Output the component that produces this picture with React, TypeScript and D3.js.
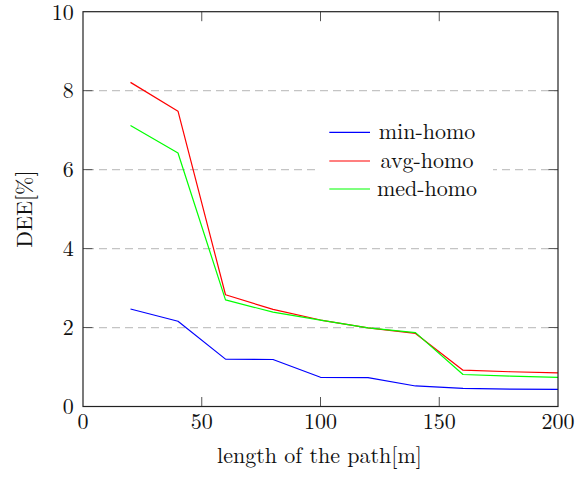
import React from "react";
import * as d3 from "d3";

const xValues = [20, 40, 60, 80, 100, 120, 140, 160, 180, 200];
const minHomo = [2.47, 2.16, 1.2, 1.19, 0.74, 0.73, 0.52, 0.46, 0.44, 0.435];
const avgHomo = [8.21, 7.48, 2.83, 2.46, 2.19, 1.99, 1.85, 0.92, 0.88, 0.85];
const medHomo = [7.12, 6.42, 2.7, 2.39, 2.19, 1.99, 1.87, 0.81, 0.77, 0.74];
const seriesNames = ["min-homo", "avg-homo", "med-homo"];
const seriesColors = ["#0000ff", "#ff0000", "#00ff00"];
const xTicks = [0, 50, 100, 150, 200];
const yTicks = [0, 2, 4, 6, 8, 10];
const xLabel = "length of the path[m]";
const yLabel = "DEE[%]";

const W = 586;
const H = 477;
const L = 83, R = 558, T = 11.7, B = 406.5;
const FONT = "Latin Modern Roman";
const FS = 22;

export default function App() {
  const x = d3.scaleLinear().domain([0, 200]).range([L, R]);
  const y = d3.scaleLinear().domain([0, 10]).range([B, T]);
  const allSeries = [minHomo, avgHomo, medHomo];
  const line = d3
    .line<number>()
    .x((_, i) => x(xValues[i]))
    .y((d) => y(d));
  const tickLen = 9.5;
  const legendRows = [132.3, 161, 189];

  return (
    <svg width={W} height={H} style={{ position: "absolute", left: 0, top: 0 }}>
      <rect x={0} y={0} width={W} height={H} fill="#fff" />
      {yTicks
        .filter((t) => t > 0 && t < 10)
        .map((t) => (
          <line
            key={"g" + t}
            x1={L}
            x2={R}
            y1={y(t)}
            y2={y(t)}
            stroke="#c4c4c4"
            strokeWidth={1.2}
            strokeDasharray="8,5"
            strokeDashoffset={-3}
          />
        ))}
      {allSeries.map((s, i) => (
        <path
          key={"s" + i}
          d={line(s) || ""}
          fill="none"
          stroke={seriesColors[i]}
          strokeWidth={1.2}
          strokeLinejoin="round"
        />
      ))}
      {xTicks
        .filter((t) => t > 0 && t < 200)
        .map((t) => (
          <g key={"xt" + t}>
            <line x1={x(t)} x2={x(t)} y1={B} y2={B - tickLen} stroke="#555" strokeWidth={1} />
            <line x1={x(t)} x2={x(t)} y1={T} y2={T + tickLen} stroke="#555" strokeWidth={1} />
          </g>
        ))}
      {yTicks
        .filter((t) => t > 0 && t < 10)
        .map((t) => (
          <g key={"yt" + t}>
            <line x1={L} x2={L + tickLen} y1={y(t)} y2={y(t)} stroke="#555" strokeWidth={1} />
            <line x1={R} x2={R - tickLen} y1={y(t)} y2={y(t)} stroke="#555" strokeWidth={1} />
          </g>
        ))}
      <rect x={L} y={T} width={R - L} height={B - T} fill="none" stroke="#222" strokeWidth={1.2} />
      {xTicks.map((t) => (
        <text
          key={"xl" + t}
          x={x(t)}
          y={428.8}
          textAnchor="middle"
          fontFamily={FONT}
          fontSize={FS}
          fill="#111"
        >
          {t}
        </text>
      ))}
      {yTicks.map((t) => (
        <text
          key={"yl" + t}
          x={73.8}
          y={y(t) + 7.8}
          textAnchor="end"
          fontFamily={FONT}
          fontSize={FS}
          fill="#111"
        >
          {t}
        </text>
      ))}
      <text
        x={(L + R) / 2 - 1}
        y={463.3}
        textAnchor="middle"
        fontFamily={FONT}
        fontSize={FS}
        fill="#111"
      >
        {xLabel}
      </text>
      <text
        transform={`translate(32,${(T + B) / 2}) rotate(-90)`}
        textAnchor="middle"
        fontFamily={FONT}
        fontSize={FS}
        fill="#111"
      >
        {yLabel}
      </text>
      <rect x={320} y={118} width={173} height={85} fill="#fff" />
      {seriesNames.map((n, i) => (
        <g key={"lg" + i}>
          <line
            x1={329.3}
            x2={370}
            y1={legendRows[i]}
            y2={legendRows[i]}
            stroke={seriesColors[i]}
            strokeWidth={1.2}
          />
          <text
            x={427}
            y={legendRows[i] + 6.5}
            textAnchor="middle"
            fontFamily={FONT}
            fontSize={FS}
            fill="#111"
          >
            {n}
          </text>
        </g>
      ))}
    </svg>
  );
}
